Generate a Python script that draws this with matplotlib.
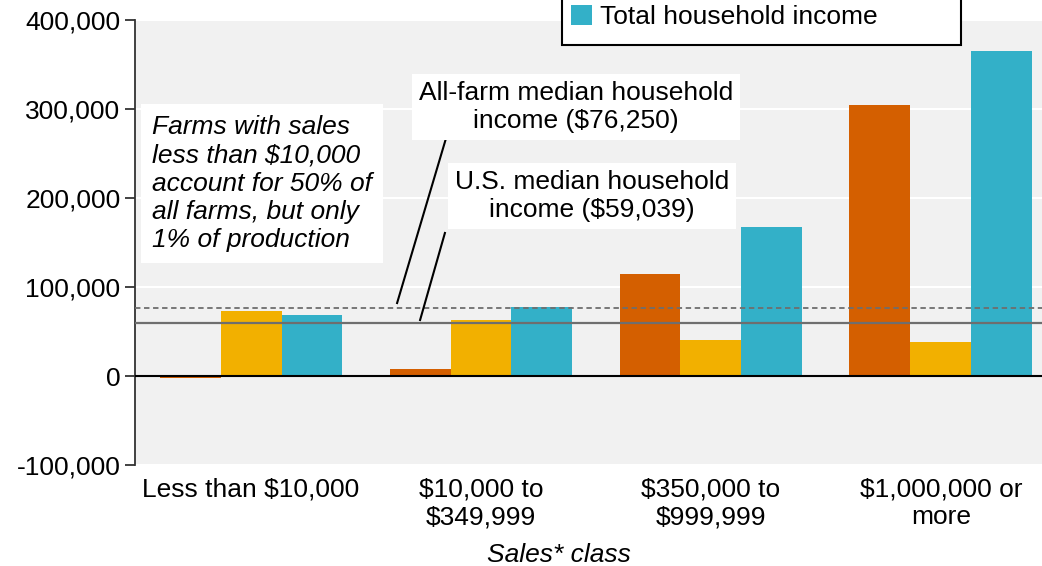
import numpy as np
import matplotlib
matplotlib.use("Agg")
import matplotlib.pyplot as plt
from matplotlib.patches import Rectangle
from matplotlib.ticker import FuncFormatter

plt.rcParams['font.family'] = ['Liberation Sans', 'DejaVu Sans']

# data
classes = ["Less than $10,000", "$10,000 to\n$349,999", "$350,000 to\n$999,999", "$1,000,000 or\nmore"]
series_names = ["Median income from farming", "Median off-farm income", "Total household income"]
farm_income = [-2000, 8000, 115000, 305000]
offfarm_income = [73000, 63000, 40000, 38000]
total_income = [68000, 78000, 167000, 365000]
allfarm_median = 76250
us_median = 59039

colors = ["#d45f00", "#f2b000", "#33b0c8"]

fig = plt.figure(figsize=(10.42, 5.66), dpi=100)
ax = fig.add_axes([135 / 1042, 101 / 566, 907 / 1042, 445 / 566])
ax.set_facecolor("#f1f1f1")

x = np.arange(len(classes))
w = 0.265
bars = []
for i, (vals, c, name) in enumerate(zip([farm_income, offfarm_income, total_income], colors, series_names)):
    bars.append(ax.bar(x + (i - 1) * w, vals, width=w, color=c, label=name, zorder=3))

ax.set_xlim(-0.505, 3.44)
ax.set_ylim(-100000, 400000)
ax.set_yticks(np.arange(-100000, 400001, 100000))
ax.yaxis.set_major_formatter(FuncFormatter(lambda v, p: f"{int(v):,}"))
ax.grid(axis="y", color="white", lw=1.5, zorder=1)
ax.set_axisbelow(True)

ax.axhline(0, color="black", lw=1.5, zorder=4)
ax.axhline(allfarm_median, color="#6e6e6e", lw=1.3, ls=(0, (3, 2)), zorder=4)
ax.axhline(us_median, color="#6e6e6e", lw=1.6, zorder=4)

for s in ["top", "right", "bottom"]:
    ax.spines[s].set_visible(False)
ax.spines["left"].set_linewidth(1.3)
ax.spines["left"].set_color("#333333")

ax.set_xticks(x)
ax.set_xticklabels(classes, fontsize=19, linespacing=1.2)
ax.tick_params(axis="x", length=0, pad=9)
ax.tick_params(axis="y", labelsize=19, length=7, width=1.3, color="#333333")
ax.set_xlabel("Sales* class", fontsize=19, style="italic")
ax.xaxis.set_label_coords(0.467, -0.175)

box = dict(facecolor="white", edgecolor="none", pad=5)
ax.text(1.413, 302000, "All-farm median household\nincome ($76,250)", ha="center", va="center",
        fontsize=19, linespacing=1.2, bbox=box, zorder=6)
ax.text(1.483, 202000, "U.S. median household\nincome ($59,039)", ha="center", va="center",
        fontsize=19, linespacing=1.2, bbox=box, zorder=6)
ax.text(-0.43, 216000, "Farms with sales\nless than $10,000\naccount for 50% of\nall farms, but only\n1% of production",
        ha="left", va="center", fontsize=19, style="italic", linespacing=1.22,
        bbox=dict(facecolor="white", edgecolor="none", pad=8), zorder=6)
ax.plot([0.852, 0.635], [270800, 82000], color="black", lw=1.5, zorder=5)
ax.plot([0.843, 0.735], [160700, 62900], color="black", lw=1.5, zorder=5)

# legend: only its last row is inside the picture, the box runs off the top edge
fig.patches.append(Rectangle((562 / 1042, 1 - 45 / 566), 399 / 1042, 0.2,
                             transform=fig.transFigure, facecolor="white",
                             edgecolor="black", lw=1.5, zorder=5))
fig.legend([bars[2]], [series_names[2]], loc="center left",
           bbox_to_anchor=(571 / 1042, 1 - 17 / 566), fontsize=19, frameon=False,
           borderaxespad=0, borderpad=0, handlelength=0.8, handleheight=0.8,
           handletextpad=0.3)

fig.savefig("out.png", dpi=100)
